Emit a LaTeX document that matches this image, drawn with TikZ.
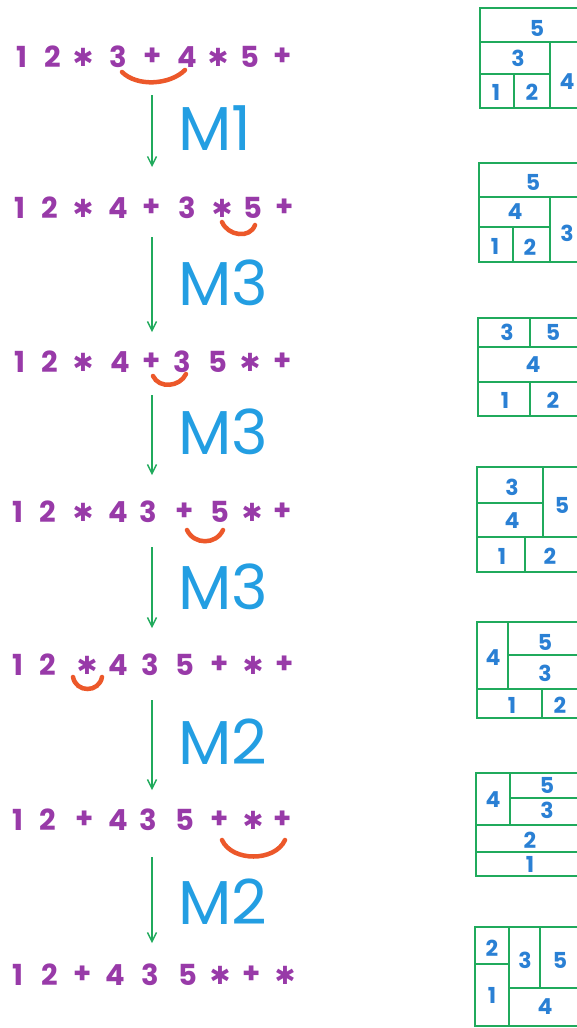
\documentclass[tikz,border=0pt]{standalone}
\usepackage{fontspec}
\setmainfont{Poppins}
\newfontfamily\djv{DejaVu Sans}
\usetikzlibrary{arrows.meta,calc}
\definecolor{pur}{RGB}{152,58,168}
\definecolor{org}{RGB}{236,88,42}
\definecolor{mblue}{RGB}{35,158,226}
\definecolor{bblue}{RGB}{42,128,212}
\definecolor{grn}{RGB}{32,170,92}
\newcommand\astk{{\djv\fontsize{25}{25}\selectfont ✱}}
\begin{document}
\begin{tikzpicture}[x=1pt,y=-1pt,
  sym/.style={text=pur,font=\fontsize{29}{29}\selectfont\bfseries,inner sep=0pt,anchor=center},
  arc/.style={draw=org,line width=4.5pt,line cap=round},
  move/.style={draw=grn,line width=1.4pt,-{Straight Barb[length=9pt,width=9pt]}},
  mlab/.style={text=mblue,font=\fontsize{62}{62}\selectfont,inner sep=0pt,anchor=west},
  room/.style={draw=grn,line width=2.2pt},
  rlab/.style={text=bblue,font=\fontsize{22}{22}\selectfont\bfseries,inner sep=0pt,anchor=center}]
\useasboundingbox (0,0) rectangle (577,1028);
\clip (0,0) rectangle (577,1028);
% expressions
\foreach \x/\c [count=\k] in {22/1,53/2,83/\astk,118/3,153/+,187/4,218/\astk,250/5,283/+}
  \node[sym] (r1c\k) at (\x,57) {\c};
\foreach \x/\c [count=\k] in {20/1,50/2,83/\astk,118/4,152/+,187/3,222/\astk,253/5,285/+}
  \node[sym] (r2c\k) at (\x,208) {\c};
\foreach \x/\c [count=\k] in {20/1,50/2,83/\astk,120/4,152/+,182/3,218/5,250/\astk,283/+}
  \node[sym] (r3c\k) at (\x,362) {\c};
\foreach \x/\c [count=\k] in {18/1,48/2,83/\astk,118/4,148/3,185/+,220/5,252/\astk,283/+}
  \node[sym] (r4c\k) at (\x,512) {\c};
\foreach \x/\c [count=\k] in {18/1,48/2,87/\astk,118/4,150/3,185/5,220/+,253/\astk,285/+}
  \node[sym] (r5c\k) at (\x,665) {\c};
\foreach \x/\c [count=\k] in {18/1,48/2,85/+,118/4,148/3,185/5,220/+,253/\astk,283/+}
  \node[sym] (r6c\k) at (\x,820) {\c};
\foreach \x/\c [count=\k] in {18/1,50/2,83/+,115/4,150/3,188/5,220/\astk,252/+,285/\astk}
  \node[sym] (r7c\k) at (\x,975) {\c};
% arcs
\draw[arc] ($(r1c4)+(4,15)$) .. controls +(15,15) and +(-15,15) .. ($(r1c6)+(-2,13)$);
\draw[arc] ($(r2c7)+(0,14)$) .. controls +(6,14) and +(-5,14) .. ($(r2c8)+(2,17)$);
\draw[arc] ($(r3c5)+(1,14)$) .. controls +(6,13) and +(-6,13) .. ($(r3c6)+(4,12)$);
\draw[arc] ($(r4c6)+(2,18)$) .. controls +(7,15) and +(-7,15) .. ($(r4c7)+(3,18)$);
\draw[arc] ($(r5c3)+(-14,12)$) .. controls +(3,16) and +(-3,16) .. ($(r5c3)+(15,12)$);
\draw[arc] ($(r6c7)+(2,20)$) .. controls +(10,22) and +(-10,22) .. ($(r6c9)+(2,20)$);
% moves
\foreach \i/\a/\b/\m/\l in {1/95/167/128/M1,2/237/332/283/M3,3/395/475/432/M3,4/547/628/587/M3,5/700/790/742/M2,6/857/943/902/M2}{
  \coordinate (s\i) at (152,\a);
  \coordinate (e\i) at (152,\b);
  \draw[move] (s\i) -- (e\i);
  \node[mlab] (m\i) at (178,\m) {\l};
}
% floorplan 1
\draw[room] (480,8) rectangle (620,108);
\draw[room] (480,42) -- (620,42) (550,42) -- (550,108) (480,74) -- (550,74) (514,74) -- (514,108);
\foreach \x/\y/\t [count=\k] in {537/28/5,518/58/3,496/92/1,532/92/2,567/82/4}
  \node[rlab] (pa\k) at (\x,\y) {\t};
% floorplan 2
\draw[room] (479,163) rectangle (620,262);
\draw[room] (479,197) -- (620,197) (550,197) -- (550,262) (479,227) -- (550,227) (513,227) -- (513,262);
\foreach \x/\y/\t [count=\k] in {533/182/5,515/212/4,495/246/1,530/247/2,567/233/3}
  \node[rlab] (pb\k) at (\x,\y) {\t};
% floorplan 3
\draw[room] (478,318) rectangle (620,416);
\draw[room] (530,318) -- (530,347) (478,347) -- (620,347) (478,382) -- (620,382) (530,382) -- (530,416);
\foreach \x/\y/\t [count=\k] in {507/332/3,553/332/5,533/365/4,505/400/1,553/400/2}
  \node[rlab] (pc\k) at (\x,\y) {\t};
% floorplan 4
\draw[room] (477,467) rectangle (620,572);
\draw[room] (477,503) -- (543,503) (543,467) -- (543,537) (477,537) -- (620,537) (525,537) -- (525,572);
\foreach \x/\y/\t [count=\k] in {512/487/3,512/521/4,562/505/5,502/556/1,550/556/2}
  \node[rlab] (pd\k) at (\x,\y) {\t};
% floorplan 5
\draw[room] (477,622) rectangle (620,718);
\draw[room] (508,622) -- (508,689) (508,655) -- (620,655) (477,689) -- (620,689) (542,689) -- (542,718);
\foreach \x/\y/\t [count=\k] in {493/658/4,545/642/5,545/673/3,512/705/1,560/705/2}
  \node[rlab] (pe\k) at (\x,\y) {\t};
% floorplan 6
\draw[room] (476,773) rectangle (620,876);
\draw[room] (510,773) -- (510,825) (510,798) -- (620,798) (476,825) -- (620,825) (476,852) -- (620,852);
\foreach \x/\y/\t [count=\k] in {493/800/4,547/785/5,547/810/3,530/840/2,530/864/1}
  \node[rlab] (pf\k) at (\x,\y) {\t};
% floorplan 7
\draw[room] (475,927) rectangle (620,1026);
\draw[room] (509,927) -- (509,1026) (475,964) -- (509,964) (540,927) -- (540,988) (509,988) -- (620,988);
\foreach \x/\y/\t [count=\k] in {492/948/2,492/995/1,525/960/3,560/960/5,545/1007/4}
  \node[rlab] (pg\k) at (\x,\y) {\t};
\end{tikzpicture}
\end{document}
